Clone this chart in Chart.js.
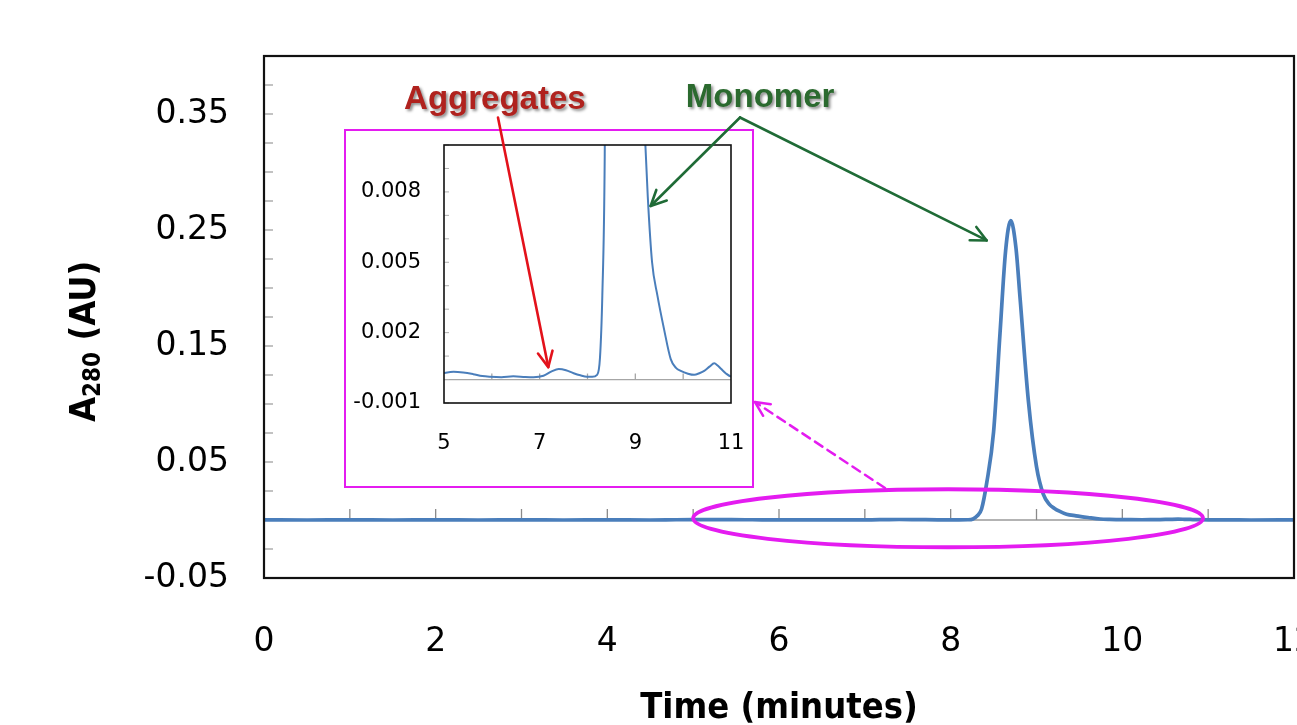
<!DOCTYPE html>
<html>
<head>
<meta charset="utf-8">
<script src="https://cdn.jsdelivr.net/npm/chart.js@4.4.0/dist/chart.umd.min.js"></script>
<style>
  html, body { margin:0; padding:0; background:#fff; overflow:hidden; width:1297px; height:725px; }
  #insetWrap { position:absolute; left:343px; top:128px; width:412px; height:361px; z-index:1; }
  #mainWrap { position:absolute; left:0; top:0; width:1360px; height:760px; z-index:2; pointer-events:none; }
</style>
</head>
<body>
<div id="insetWrap"><canvas id="insetCanvas" width="412" height="361"></canvas></div>
<div id="mainWrap"><canvas id="mainCanvas" width="1360" height="760"></canvas></div>
<script>
// ---------- data ----------
const timeMin = [0, 0.5, 1.0, 1.5, 2.0, 2.5, 3.0, 3.5, 4.0, 4.5, 4.8, 5.0, 5.2, 5.4, 5.61, 5.8, 5.96, 6.2, 6.45, 6.7, 6.87, 7.08, 7.25, 7.4, 7.55, 7.71, 7.85, 7.99, 8.1, 8.2, 8.26, 8.31, 8.36, 8.42, 8.50, 8.575, 8.64, 8.70, 8.76, 8.81, 8.905, 9.00, 9.08, 9.15, 9.21, 9.26, 9.35, 9.46, 9.6, 9.74, 9.85, 9.95, 10.1, 10.23, 10.35, 10.44, 10.55, 10.65, 10.72, 10.79, 10.9, 11.0, 11.2, 11.5, 12.0];
const absorbance = [0.0001, 0.0000, 0.0001, 0.0000, 0.0001, 0.0000, 0.0001, 0.0000, 0.0001, 0.0000, 0.0002, 0.00028, 0.00033, 0.00030, 0.00023, 0.00015, 0.00012, 0.00010, 0.00014, 0.00011, 0.00010, 0.00016, 0.00035, 0.00045, 0.00040, 0.00027, 0.00018, 0.00012, 0.00012, 0.0002, 0.0009, 0.0036, 0.0095, 0.032, 0.076, 0.161, 0.232, 0.258, 0.235, 0.190, 0.103, 0.046, 0.022, 0.0135, 0.0100, 0.0078, 0.0050, 0.0036, 0.00215, 0.00087, 0.00050, 0.00037, 0.00025, 0.0002, 0.00028, 0.00037, 0.00055, 0.00069, 0.00060, 0.00046, 0.00025, 0.00013, 0.0001, 0.0000, 0.0001];

const xTickLabels = [0, 2, 4, 6, 8, 10, 12];
const yTickLabels = [-0.05, 0.05, 0.15, 0.25, 0.35];
const insetXTickLabels = [5, 7, 9, 11];
const insetYTickLabels = [-0.001, 0.002, 0.005, 0.008];

const xTitle = 'Time (minutes)';
const yTitleMain = 'A', yTitleSub = '280', yTitleRest = ' (AU)';
const aggregatesText = 'Aggregates';
const monomerText = 'Monomer';

// ---------- style ----------
const FONT = "'DejaVu Sans', sans-serif";
const FONT_BOLD_C = "'DejaVu Sans Condensed', 'DejaVu Sans', sans-serif";
const LINE_BLUE = '#4a7ebb';
const MAGENTA = '#e41cf0';

const points = timeMin.map((t, i) => ({ x: t, y: absorbance[i] }));

function fixedTicks(list) {
  return (scale) => { scale.ticks = list.map(v => ({ value: v })); };
}
function fixSize(prop, size) {
  return (s) => {
    s[prop] = size;
    s.paddingTop = 0; s.paddingBottom = 0; s.paddingLeft = 0; s.paddingRight = 0;
  };
}

function drawArrow(ctx, x1, y1, x2, y2, color, width, dash, head) {
  ctx.save();
  ctx.strokeStyle = color; ctx.lineWidth = width; ctx.lineCap = 'round'; ctx.lineJoin = 'round';
  ctx.setLineDash(dash || []);
  ctx.beginPath(); ctx.moveTo(x1, y1); ctx.lineTo(x2, y2); ctx.stroke();
  ctx.setLineDash([]);
  const a = Math.atan2(y2 - y1, x2 - x1);
  ctx.beginPath();
  ctx.moveTo(x2 - head * Math.cos(a - 0.45), y2 - head * Math.sin(a - 0.45));
  ctx.lineTo(x2, y2);
  ctx.lineTo(x2 - head * Math.cos(a + 0.45), y2 - head * Math.sin(a + 0.45));
  ctx.stroke();
  ctx.restore();
}

// ---------- inset chart ----------
const insetDecor = {
  id: 'insetDecor',
  beforeDatasetsDraw(chart) {
    const { ctx, chartArea: a, scales: { x, y } } = chart;
    ctx.save();
    const y0 = y.getPixelForValue(0);
    ctx.strokeStyle = '#a6a6a6'; ctx.lineWidth = 1.3;
    ctx.beginPath(); ctx.moveTo(a.left, y0); ctx.lineTo(a.right, y0); ctx.stroke();
    for (let t = x.min + 1; t < x.max; t += 1) {
      const px = x.getPixelForValue(t);
      ctx.beginPath(); ctx.moveTo(px, y0); ctx.lineTo(px, y0 - 6); ctx.stroke();
    }
    ctx.strokeStyle = '#b0b0b0'; ctx.lineWidth = 1;
    for (let k = 0; k <= 11; k++) {
      const py = y.getPixelForValue(y.min + k * 0.001);
      ctx.beginPath(); ctx.moveTo(a.left, py); ctx.lineTo(a.left + 5, py); ctx.stroke();
    }
    ctx.restore();
  },
  afterDatasetsDraw(chart) {
    const { ctx, chartArea: a, width, height } = chart;
    ctx.save();
    ctx.strokeStyle = '#111'; ctx.lineWidth = 1.6;
    ctx.strokeRect(a.left, a.top, a.right - a.left, a.bottom - a.top);
    ctx.strokeStyle = MAGENTA; ctx.lineWidth = 2;
    ctx.strokeRect(2, 2, width - 4, height - 4);
    ctx.restore();
  }
};

const insetChart = new Chart(document.getElementById('insetCanvas'), {
  type: 'line',
  data: { datasets: [{ data: points, borderColor: LINE_BLUE, borderWidth: 2, pointRadius: 0, cubicInterpolationMode: 'monotone', fill: false }] },
  options: {
    responsive: false, animation: false, events: [],
    layout: { autoPadding: false, padding: { left: 0, top: 17, right: 24, bottom: 0 } },
    plugins: { legend: { display: false }, tooltip: { enabled: false } },
    scales: {
      x: {
        type: 'linear', min: 5, max: 11,
        afterBuildTicks: fixedTicks(insetXTickLabels),
        afterFit: fixSize('height', 86),
        grid: { display: false, drawTicks: false }, border: { display: false },
        ticks: { color: '#000', font: { family: FONT, size: 21 }, padding: 28, maxRotation: 0, autoSkip: false, callback: (v) => String(v) }
      },
      y: {
        type: 'linear', min: -0.001, max: 0.010,
        afterBuildTicks: fixedTicks(insetYTickLabels),
        afterFit: fixSize('width', 101),
        grid: { display: false, drawTicks: false }, border: { display: false },
        ticks: { color: '#000', font: { family: FONT, size: 21 }, padding: 23, callback: (v) => Number(v).toFixed(3) }
      }
    }
  },
  plugins: [insetDecor]
});

// ---------- main chart ----------
const ann = {
  aggregates: { x: 2.69, y: 0.362 },
  monomer: { x: 5.78, y: 0.364 },
  redStart: { x: 2.726, y: 0.347 },
  redEndInset: { x: 7.18, y: 0.00053 },
  greenApex: { x: 5.546, y: 0.347 },
  greenEndInset: { x: 9.32, y: 0.0074 },
  greenEndMain: { x: 8.42, y: 0.241 },
  dashStart: { x: 7.235, y: 0.0276 },
  dashEnd: { x: 5.72, y: 0.1017 },
  ellipse: { x: 7.97, y: 0.0015, rx: 2.97, ry: 0.025 }
};

const mainDecor = {
  id: 'mainDecor',
  beforeDatasetsDraw(chart) {
    const { ctx, chartArea: a, scales: { x, y } } = chart;
    ctx.save();
    const y0 = y.getPixelForValue(0);
    ctx.strokeStyle = '#9a9a9a'; ctx.lineWidth = 1.5;
    ctx.beginPath(); ctx.moveTo(a.left, y0); ctx.lineTo(a.right, y0); ctx.stroke();
    ctx.strokeStyle = '#8a8a8a'; ctx.lineWidth = 1.3;
    for (let t = x.min + 1; t < x.max; t += 1) {
      const px = x.getPixelForValue(t);
      ctx.beginPath(); ctx.moveTo(px, y0); ctx.lineTo(px, y0 - 11); ctx.stroke();
    }
    ctx.strokeStyle = '#9a9a9a'; ctx.lineWidth = 1.2;
    for (let k = 0; k <= 18; k++) {
      const py = y.getPixelForValue(y.min + k * 0.025);
      ctx.beginPath(); ctx.moveTo(a.left, py); ctx.lineTo(a.left + 9, py); ctx.stroke();
    }
    ctx.restore();
  },
  afterDatasetsDraw(chart) {
    const { ctx, chartArea: a } = chart;
    ctx.save();
    ctx.strokeStyle = '#111'; ctx.lineWidth = 2.2;
    ctx.strokeRect(a.left, a.top, a.right - a.left, a.bottom - a.top);
    ctx.restore();
  },
  afterDraw(chart) {
    const { ctx, scales: { x, y } } = chart;
    const wrap = document.getElementById('insetWrap');
    const ox = wrap.offsetLeft, oy = wrap.offsetTop;
    const ix = insetChart.scales.x, iy = insetChart.scales.y;
    const P = (p) => [x.getPixelForValue(p.x), y.getPixelForValue(p.y)];
    const IP = (p) => [ox + ix.getPixelForValue(p.x), oy + iy.getPixelForValue(p.y)];

    // ellipse
    ctx.save();
    const [ecx, ecy] = P(ann.ellipse);
    const erx = x.getPixelForValue(ann.ellipse.x + ann.ellipse.rx) - ecx;
    const ery = ecy - y.getPixelForValue(ann.ellipse.y + ann.ellipse.ry);
    ctx.strokeStyle = MAGENTA; ctx.lineWidth = 3.8;
    ctx.beginPath(); ctx.ellipse(ecx, ecy, erx, ery, 0, 0, Math.PI * 2); ctx.stroke();
    ctx.restore();

    // dashed magenta arrow
    const [dx1, dy1] = P(ann.dashStart), [dx2, dy2] = P(ann.dashEnd);
    drawArrow(ctx, dx1, dy1, dx2, dy2, MAGENTA, 2.5, [9, 6], 16);

    // red arrow
    const [rx1, ry1] = P(ann.redStart), [rx2, ry2] = IP(ann.redEndInset);
    drawArrow(ctx, rx1, ry1, rx2, ry2, '#e3121b', 2.6, null, 17);

    // green arrows
    const [gx, gy] = P(ann.greenApex);
    const [g1x, g1y] = IP(ann.greenEndInset), [g2x, g2y] = P(ann.greenEndMain);
    drawArrow(ctx, gx, gy, g1x, g1y, '#1f6b36', 2.6, null, 17);
    drawArrow(ctx, gx, gy, g2x, g2y, '#1f6b36', 2.6, null, 17);

    // labels
    ctx.save();
    ctx.font = "bold 33px 'Liberation Sans', Arial, sans-serif";
    ctx.textAlign = 'center'; ctx.textBaseline = 'middle';
    ctx.shadowColor = 'rgba(0,0,0,0.45)'; ctx.shadowOffsetX = 2; ctx.shadowOffsetY = 2; ctx.shadowBlur = 3;
    let [lx, ly] = P(ann.aggregates);
    ctx.fillStyle = '#b0221e'; ctx.fillText(aggregatesText, lx, ly);
    [lx, ly] = P(ann.monomer);
    ctx.fillStyle = '#2b6a2f'; ctx.fillText(monomerText, lx, ly);
    ctx.restore();

    // y-axis title with subscript
    ctx.save();
    ctx.translate(95, 422); ctx.rotate(-Math.PI / 2);
    ctx.fillStyle = '#000'; ctx.textAlign = 'left'; ctx.textBaseline = 'alphabetic';
    ctx.font = 'bold 36px ' + FONT_BOLD_C;
    ctx.fillText(yTitleMain, 0, 0);
    let w = ctx.measureText(yTitleMain).width;
    ctx.font = 'bold 24px ' + FONT_BOLD_C;
    ctx.fillText(yTitleSub, w, 5);
    w += ctx.measureText(yTitleSub).width;
    ctx.font = 'bold 36px ' + FONT_BOLD_C;
    ctx.fillText(yTitleRest, w, 0);
    ctx.restore();
  }
};

const mainChart = new Chart(document.getElementById('mainCanvas'), {
  type: 'line',
  data: { datasets: [{ data: points, borderColor: LINE_BLUE, borderWidth: 3.7, pointRadius: 0, cubicInterpolationMode: 'monotone', fill: false }] },
  options: {
    responsive: false, animation: false, events: [],
    layout: { autoPadding: false, padding: { left: 0, top: 56, right: 66, bottom: 0 } },
    plugins: { legend: { display: false }, tooltip: { enabled: false } },
    scales: {
      x: {
        type: 'linear', min: 0, max: 12,
        afterBuildTicks: fixedTicks(xTickLabels),
        afterFit: fixSize('height', 182),
        grid: { display: false, drawTicks: false }, border: { display: false },
        ticks: { color: '#000', font: { family: FONT, size: 33 }, padding: 45, maxRotation: 0, autoSkip: false, callback: (v) => String(v) },
        title: { display: true, text: xTitle, color: '#000', font: { family: FONT_BOLD_C, size: 36, weight: 'bold' }, padding: { top: 0, bottom: 30 } }
      },
      y: {
        type: 'linear', min: -0.05, max: 0.40,
        afterBuildTicks: fixedTicks(yTickLabels),
        afterFit: fixSize('width', 264),
        grid: { display: false, drawTicks: false }, border: { display: false },
        ticks: { color: '#000', font: { family: FONT, size: 33 }, padding: 35, callback: (v) => Number(v).toFixed(2) }
      }
    }
  },
  plugins: [mainDecor]
});
</script>
</body>
</html>
